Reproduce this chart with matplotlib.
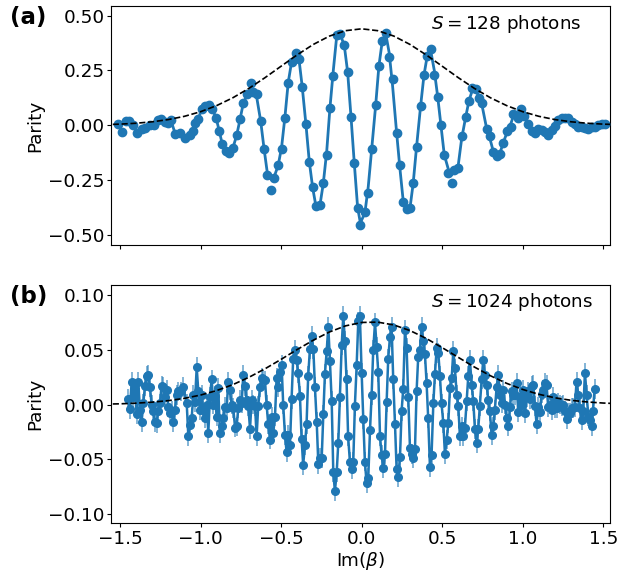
import matplotlib
matplotlib.use("Agg")
import matplotlib.pyplot as plt

# ---------------- Panel (a): S = 128 photons ----------------
im_beta_a = [-1.512, -1.490, -1.466, -1.445, -1.418, -1.397, -1.366, -1.345, -1.314, -1.287,
             -1.262, -1.246, -1.221, -1.200, -1.182, -1.159, -1.128, -1.097, -1.066, -1.045,
             -1.035, -1.014, -0.993, -0.973, -0.948, -0.927, -0.904, -0.884, -0.865, -0.842,
             -0.822, -0.800, -0.776, -0.755, -0.735, -0.710, -0.689, -0.673, -0.652, -0.627,
             -0.606, -0.586, -0.565, -0.543, -0.518, -0.497, -0.476, -0.456, -0.435, -0.410,
             -0.389, -0.369, -0.346, -0.325, -0.304, -0.284, -0.259, -0.238, -0.217, -0.197,
             -0.176, -0.155, -0.135, -0.108, -0.087, -0.066, -0.046, -0.025, -0.008, 0.020,
             0.041, 0.062, 0.087, 0.107, 0.128, 0.149, 0.171, 0.192, 0.217, 0.238,
             0.258, 0.279, 0.300, 0.320, 0.341, 0.366, 0.387, 0.407, 0.430, 0.451,
             0.472, 0.492, 0.513, 0.538, 0.559, 0.575, 0.600, 0.621, 0.646, 0.666,
             0.687, 0.708, 0.728, 0.749, 0.776, 0.796, 0.817, 0.838, 0.858, 0.879,
             0.904, 0.925, 0.941, 0.968, 0.989, 1.009, 1.034, 1.055, 1.076, 1.096,
             1.117, 1.138, 1.158, 1.179, 1.200, 1.220, 1.241, 1.262, 1.283, 1.303,
             1.324, 1.345, 1.366, 1.386, 1.405, 1.428, 1.448, 1.469, 1.490, 1.510]
parity_a = [0.005, -0.029, 0.020, 0.020, 0.000, -0.033, -0.015, -0.011, 0.000, 0.000,
            0.024, 0.030, 0.015, 0.009, 0.022, -0.038, -0.033, -0.056, -0.046, -0.026,
            0.012, 0.027, 0.076, 0.088, 0.091, 0.073, 0.035, -0.026, -0.087, -0.117,
            -0.128, -0.105, -0.046, 0.027, 0.100, 0.141, 0.195, 0.152, 0.141, 0.020,
            -0.106, -0.228, -0.296, -0.239, -0.182, -0.109, 0.032, 0.195, 0.289, 0.331,
            0.301, 0.176, 0.005, -0.166, -0.280, -0.368, -0.363, -0.264, -0.137, 0.078,
            0.225, 0.410, 0.418, 0.365, 0.243, 0.038, -0.170, -0.375, -0.456, -0.394,
            -0.307, -0.109, 0.091, 0.270, 0.384, 0.423, 0.311, 0.213, -0.033, -0.182,
            -0.350, -0.383, -0.378, -0.264, -0.097, 0.088, 0.229, 0.316, 0.347, 0.229,
            0.131, 0.000, -0.135, -0.216, -0.264, -0.205, -0.193, -0.049, 0.038, 0.111,
            0.172, 0.167, 0.123, 0.100, -0.015, -0.049, -0.122, -0.140, -0.129, -0.079,
            -0.026, -0.008, 0.050, 0.031, 0.073, 0.042, 0.005, -0.026, -0.036, -0.018,
            -0.023, -0.031, -0.046, -0.023, -0.003, 0.024, 0.035, 0.035, 0.035, 0.015,
            0.005, -0.008, -0.006, -0.011, -0.018, -0.008, -0.006, 0.000, 0.005, 0.005]
fit_a = [0.005, 0.005, 0.018, 0.018, 0.000, -0.025, -0.015, -0.011, 0.000, 0.002,
         0.022, 0.028, 0.015, 0.010, 0.018, -0.035, -0.035, -0.052, -0.046, -0.026,
         0.010, 0.030, 0.074, 0.088, 0.090, 0.073, 0.035, -0.026, -0.087, -0.117,
         -0.126, -0.105, -0.046, 0.027, 0.100, 0.141, 0.165, 0.155, 0.130, 0.020,
         -0.106, -0.215, -0.245, -0.235, -0.182, -0.100, 0.040, 0.195, 0.289, 0.325,
         0.301, 0.176, 0.005, -0.166, -0.285, -0.368, -0.365, -0.264, -0.120, 0.078,
         0.250, 0.405, 0.418, 0.365, 0.243, 0.038, -0.170, -0.375, -0.445, -0.400,
         -0.280, -0.109, 0.091, 0.270, 0.384, 0.420, 0.330, 0.180, -0.033, -0.200,
         -0.345, -0.383, -0.378, -0.264, -0.097, 0.088, 0.229, 0.316, 0.335, 0.250,
         0.131, 0.000, -0.135, -0.200, -0.225, -0.215, -0.180, -0.060, 0.038, 0.111,
         0.160, 0.160, 0.130, 0.085, -0.015, -0.060, -0.118, -0.140, -0.129, -0.079,
         -0.030, 0.005, 0.040, 0.055, 0.060, 0.040, 0.005, -0.026, -0.036, -0.025,
         -0.023, -0.031, -0.040, -0.023, -0.003, 0.024, 0.032, 0.035, 0.030, 0.015,
         0.005, -0.008, -0.008, -0.011, -0.014, -0.008, -0.006, 0.000, 0.003, 0.005]

# Gaussian envelope of panel (a)
env_x = [-1.6, -1.5, -1.4, -1.3, -1.2, -1.1, -1.0, -0.9, -0.8, -0.7, -0.6, -0.5, -0.4,
         -0.3, -0.2, -0.1, 0.0, 0.1, 0.2, 0.3, 0.4, 0.5, 0.6, 0.7, 0.8, 0.9, 1.0,
         1.1, 1.2, 1.3, 1.4, 1.5, 1.6]
env_a = [0.0029, 0.0053, 0.0094, 0.0160, 0.0261, 0.0410, 0.0620, 0.0899, 0.1254, 0.1683,
         0.2172, 0.2695, 0.3215, 0.3688, 0.4068, 0.4315, 0.4400, 0.4315, 0.4068, 0.3688,
         0.3215, 0.2695, 0.2172, 0.1683, 0.1254, 0.0899, 0.0620, 0.0410, 0.0261, 0.0160,
         0.0094, 0.0053, 0.0029]

# ---------------- Panel (b): S = 1024 photons ----------------
im_beta_b = [-1.453, -1.438, -1.428, -1.418, -1.407, -1.397, -1.387, -1.376, -1.366, -1.356,
             -1.345, -1.335, -1.325, -1.314, -1.304, -1.294, -1.283, -1.273, -1.263, -1.252,
             -1.242, -1.232, -1.221, -1.211, -1.200, -1.190, -1.180, -1.170, -1.159, -1.149,
             -1.139, -1.124, -1.107, -1.086, -1.076, -1.066, -1.055, -1.045, -1.035, -1.024,
             -1.014, -1.004, -0.993, -0.983, -0.973, -0.962, -0.952, -0.942, -0.931, -0.921,
             -0.911, -0.900, -0.890, -0.880, -0.869, -0.859, -0.849, -0.838, -0.828, -0.818,
             -0.807, -0.797, -0.786, -0.776, -0.766, -0.755, -0.745, -0.735, -0.724, -0.714,
             -0.704, -0.693, -0.683, -0.673, -0.662, -0.652, -0.642, -0.631, -0.621, -0.611,
             -0.600, -0.590, -0.580, -0.569, -0.559, -0.549, -0.538, -0.528, -0.518, -0.507,
             -0.497, -0.487, -0.476, -0.466, -0.456, -0.445, -0.435, -0.425, -0.414, -0.404,
             -0.394, -0.383, -0.373, -0.363, -0.352, -0.342, -0.332, -0.321, -0.311, -0.300,
             -0.290, -0.279, -0.269, -0.259, -0.248, -0.238, -0.228, -0.217, -0.207, -0.197,
             -0.186, -0.176, -0.166, -0.155, -0.145, -0.135, -0.124, -0.114, -0.104, -0.094,
             -0.084, -0.073, -0.062, -0.052, -0.042, -0.031, -0.021, -0.011, 0.000, 0.010,
             0.020, 0.031, 0.041, 0.052, 0.062, 0.072, 0.083, 0.093, 0.103, 0.114,
             0.124, 0.134, 0.145, 0.155, 0.165, 0.176, 0.186, 0.196, 0.207, 0.217,
             0.227, 0.238, 0.248, 0.258, 0.269, 0.279, 0.289, 0.300, 0.310, 0.320,
             0.331, 0.341, 0.351, 0.362, 0.372, 0.383, 0.393, 0.403, 0.413, 0.424,
             0.434, 0.445, 0.455, 0.466, 0.476, 0.486, 0.496, 0.507, 0.517, 0.528,
             0.538, 0.548, 0.559, 0.569, 0.579, 0.590, 0.600, 0.610, 0.621, 0.631,
             0.641, 0.652, 0.662, 0.672, 0.683, 0.693, 0.703, 0.714, 0.724, 0.734,
             0.745, 0.755, 0.765, 0.776, 0.786, 0.796, 0.807, 0.817, 0.827, 0.838,
             0.848, 0.858, 0.869, 0.879, 0.890, 0.900, 0.910, 0.921, 0.931, 0.941,
             0.952, 0.962, 0.972, 0.983, 0.993, 1.003, 1.014, 1.024, 1.034, 1.045,
             1.055, 1.065, 1.076, 1.086, 1.096, 1.107, 1.117, 1.127, 1.138, 1.148,
             1.158, 1.169, 1.179, 1.189, 1.200, 1.210, 1.220, 1.231, 1.241, 1.251,
             1.262, 1.272, 1.282, 1.293, 1.303, 1.313, 1.324, 1.334, 1.345, 1.355,
             1.365, 1.376, 1.386, 1.397, 1.407, 1.417, 1.427, 1.436, 1.446]
parity_b = [0.005, -0.004, 0.021, 0.007, 0.014, -0.009, 0.021, -0.005, -0.016, 0.001,
            0.017, 0.026, 0.027, 0.016, 0.000, -0.006, -0.016, -0.017, -0.006, 0.001,
            0.017, 0.016, 0.007, 0.013, -0.002, -0.008, -0.006, -0.016, -0.005, 0.009,
            0.012, 0.012, 0.016, 0.001, -0.029, -0.019, -0.012, 0.009, 0.002, 0.034,
            0.012, -0.005, 0.009, -0.005, -0.012, 0.000, -0.026, 0.007, 0.023, 0.000,
            0.008, -0.011, 0.015, -0.026, -0.020, -0.012, -0.002, -0.003, 0.021, 0.013,
            0.000, -0.003, -0.021, -0.020, -0.003, 0.004, 0.001, 0.027, 0.017, 0.004,
            -0.001, -0.022, 0.004, 0.000, -0.001, -0.029, -0.001, 0.016, 0.024, 0.023,
            0.022, 0.000, -0.018, -0.032, -0.011, -0.026, -0.011, 0.024, 0.016, 0.030,
            0.036, 0.000, -0.028, -0.043, -0.028, -0.037, 0.005, 0.042, 0.050, 0.041,
            0.029, 0.008, -0.031, -0.055, -0.037, -0.018, 0.026, 0.051, 0.063, 0.051,
            0.016, -0.016, -0.054, -0.049, -0.049, -0.009, 0.028, 0.049, 0.071, 0.040,
            0.003, -0.062, -0.079, -0.062, -0.035, 0.007, 0.054, 0.081, 0.058, 0.023,
            -0.029, -0.052, -0.059, -0.052, -0.001, 0.036, 0.076, 0.081, 0.029, -0.013,
            -0.052, -0.072, -0.067, -0.023, 0.009, 0.050, 0.075, 0.053, 0.030, -0.029,
            -0.046, -0.058, -0.045, 0.002, 0.042, 0.062, 0.071, 0.023, -0.018, -0.059,
            -0.066, -0.048, -0.006, 0.014, 0.068, 0.052, 0.007, -0.040, -0.045, -0.049,
            -0.041, 0.012, 0.043, 0.050, 0.071, 0.058, 0.046, 0.020, -0.012, -0.057,
            -0.046, 0.001, 0.028, 0.052, 0.047, 0.026, 0.001, -0.017, -0.045, -0.032,
            -0.017, 0.015, 0.024, 0.049, 0.033, 0.009, -0.001, -0.029, -0.020, -0.029,
            -0.021, 0.003, 0.026, 0.041, 0.018, 0.003, -0.022, -0.035, -0.022, -0.001,
            0.023, 0.041, 0.027, 0.018, 0.004, -0.006, -0.028, -0.020, -0.005, 0.016,
            0.027, 0.009, 0.001, 0.013, 0.000, -0.012, -0.020, -0.002, 0.012, 0.009,
            0.009, 0.020, -0.007, 0.007, 0.000, 0.013, -0.008, 0.007, 0.012, 0.005,
            0.017, 0.018, -0.001, -0.018, -0.002, -0.007, 0.010, 0.013, 0.020, 0.018,
            -0.002, 0.000, -0.005, 0.007, -0.003, -0.003, 0.002, 0.000, -0.001, 0.000,
            -0.006, -0.013, -0.008, -0.008, -0.003, -0.003, -0.002, 0.021, 0.009, -0.003,
            -0.014, -0.006, 0.029, 0.009, -0.011, -0.014, -0.020, -0.006, 0.014]
parity_b_err = 0.009

env_b = [0.0004, 0.0007, 0.0013, 0.0022, 0.0036, 0.0057, 0.0087, 0.0128, 0.0182, 0.0249,
         0.0327, 0.0413, 0.0503, 0.0588, 0.0663, 0.0719, 0.0750, 0.0753, 0.0727, 0.0676,
         0.0605, 0.0520, 0.0431, 0.0343, 0.0263, 0.0194, 0.0138, 0.0094, 0.0062, 0.0039,
         0.0024, 0.0014, 0.0008]

xticks = [-1.5, -1.0, -0.5, 0.0, 0.5, 1.0, 1.5]
yticks_a = [-0.50, -0.25, 0.00, 0.25, 0.50]
ylabels_a = ['\u22120.50', '\u22120.25', '0.00', '0.25', '0.50']
yticks_b = [-0.10, -0.05, 0.00, 0.05, 0.10]
ylabels_b = ['\u22120.10', '\u22120.05', '0.00', '0.05', '0.10']

# ---------------- Figure ----------------
plt.rcParams['font.family'] = ['DejaVu Sans']
FS = 13.2
blue = '#1f77b4'
fig = plt.figure(figsize=(6.34, 5.73), dpi=100)
ax1 = fig.add_axes([0.1751, 0.5724, 0.7871, 0.4171])
ax2 = fig.add_axes([0.1751, 0.0864, 0.7871, 0.4162])

ax1.plot(env_x, env_a, '--', color='black', lw=1.2, zorder=4)
ax1.plot(im_beta_a, fit_a, '-', color=blue, lw=2.0, zorder=2)
ax1.plot(im_beta_a, parity_a, 'o', color=blue, ms=6, zorder=3)
ax1.text(0.641, 0.926, r'$S = 128$ photons', transform=ax1.transAxes,
         ha='left', va='center', fontsize=FS)

ax2.plot(env_x, env_b, '--', color='black', lw=1.2, zorder=4)
ax2.plot(im_beta_b, parity_b, '-', color=blue, lw=1.8, zorder=2)
ax2.errorbar(im_beta_b, parity_b, yerr=parity_b_err, fmt='o', color=blue, ms=5.5,
             ecolor=(0.12, 0.47, 0.71, 0.55), elinewidth=1.4, capsize=0, zorder=3)
ax2.text(0.641, 0.928, r'$S = 1024$ photons', transform=ax2.transAxes,
         ha='left', va='center', fontsize=FS)

for ax in (ax1, ax2):
    ax.set_xlim(-1.556, 1.542)
    ax.set_xticks(xticks)
    ax.tick_params(labelsize=FS, length=3.2)
    ax.tick_params(axis='y', pad=1.5)
    ax.tick_params(axis='x', pad=1.2)
    ax.set_ylabel('Parity', fontsize=FS)
    ax.yaxis.set_label_coords(-0.134, 0.5)
ax1.set_ylim(-0.546, 0.544)
ax1.set_yticks(yticks_a)
ax1.set_yticklabels(ylabels_a)
ax1.tick_params(axis='x', labelbottom=False)
ax2.set_ylim(-0.1086, 0.1092)
ax2.set_yticks(yticks_b)
ax2.set_yticklabels(ylabels_b)
ax2.set_xlabel(r'Im($\beta$)', fontsize=FS)
ax2.xaxis.set_label_coords(0.5, -0.112)

fig.text(0.016, 0.969, '(a)', fontsize=16.5, fontweight='bold', va='center', ha='left')
fig.text(0.016, 0.482, '(b)', fontsize=16.5, fontweight='bold', va='center', ha='left')

fig.savefig('out.png', dpi=100)
